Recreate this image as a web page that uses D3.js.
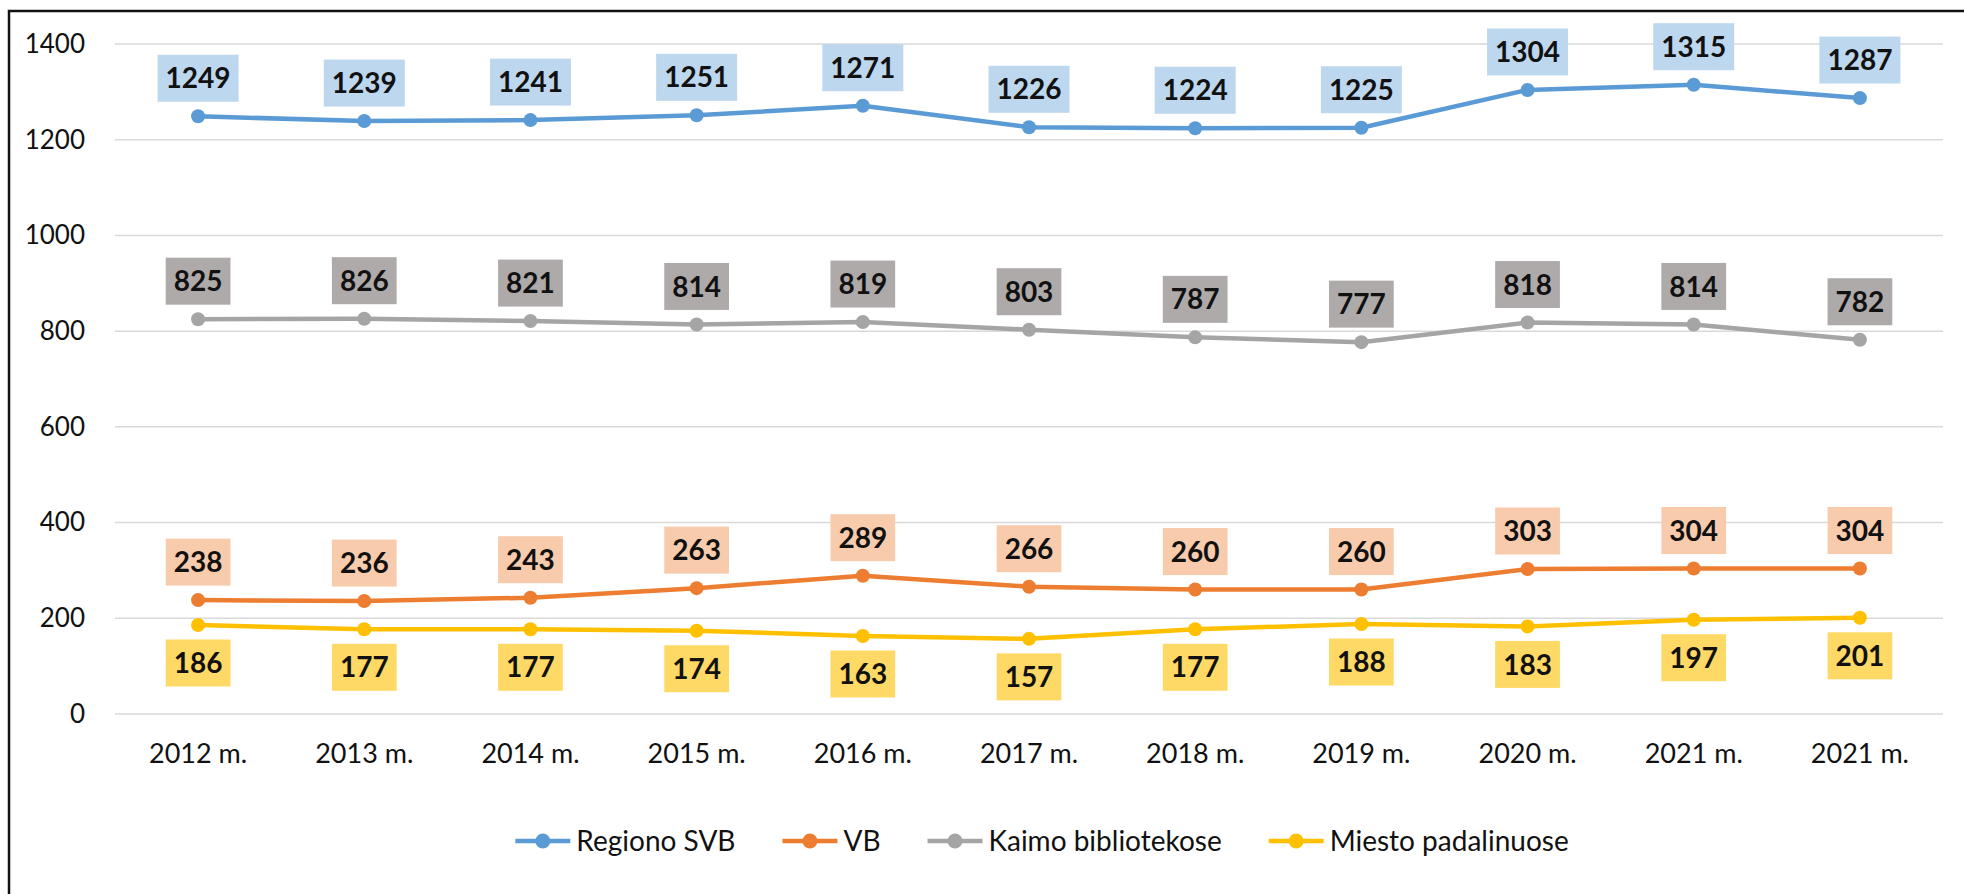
<!DOCTYPE html>
<html><head><meta charset="utf-8">
<script src="https://cdn.jsdelivr.net/npm/d3@7"></script>
<style>body{margin:0;background:#fff;}svg{display:block;}</style>
</head><body>
<svg id="chart" width="1964" height="894"></svg>
<script>
const categories = ["2012 m.","2013 m.","2014 m.","2015 m.","2016 m.","2017 m.","2018 m.","2019 m.","2020 m.","2021 m.","2021 m."];
const regionoSVB = [1249,1239,1241,1251,1271,1226,1224,1225,1304,1315,1287];
const vb = [238,236,243,263,289,266,260,260,303,304,304];
const kaimo = [825,826,821,814,819,803,787,777,818,814,782];
const miesto = [186,177,177,174,163,157,177,188,183,197,201];
const yTicks = [0,200,400,600,800,1000,1200,1400];
const seriesNames = ["Regiono SVB","VB","Kaimo bibliotekose","Miesto padalinuose"];

const series = [
  {name: seriesNames[0], values: regionoSVB, color:"#5B9BD5", box:"#BDD7EE", pos:"above"},
  {name: seriesNames[1], values: vb, color:"#ED7D31", box:"#F8CBAD", pos:"above"},
  {name: seriesNames[2], values: kaimo, color:"#A5A5A5", box:"#AEAAAA", pos:"above"},
  {name: seriesNames[3], values: miesto, color:"#FFC000", box:"#FFD966", pos:"below"}
];

const svg = d3.select("#chart");
const font = "Lato, 'Open Sans', sans-serif";
const plot = {left:115, right:1943, top:44, bottom:714};

// frame
svg.append("rect").attr("x",9).attr("y",11).attr("width",2100).attr("height",1000)
  .attr("fill","none").attr("stroke","#111").attr("stroke-width",2.5);

const idx = categories.map((d,i)=>i);
const x = d3.scaleBand().domain(idx).range([plot.left, plot.right]);
const cx = i => x(i) + x.bandwidth()/2;
const y = d3.scaleLinear().domain([0,1400]).range([plot.bottom, plot.top]);

// gridlines
svg.append("g").selectAll("line").data(yTicks).join("line")
  .attr("x1",plot.left).attr("x2",plot.right)
  .attr("y1",d=>y(d)).attr("y2",d=>y(d))
  .attr("stroke","#D9D9D9").attr("stroke-width",1.5);

// y axis
const yAxis = svg.append("g").attr("transform",`translate(${plot.left},0)`)
  .call(d3.axisLeft(y).tickValues(yTicks).tickSize(0).tickPadding(30).tickFormat(d3.format("d")));
yAxis.select(".domain").remove();
yAxis.selectAll("text").attr("font-family",font).attr("font-size",26).attr("fill","#111");

// x axis
const xAxis = svg.append("g").attr("transform",`translate(0,${plot.bottom})`)
  .call(d3.axisBottom(x).tickSize(0).tickPadding(30).tickFormat(i=>categories[i]));
xAxis.select(".domain").remove();
xAxis.selectAll("text").attr("font-family",font).attr("font-size",27).attr("fill","#111");

const line = d3.line().x((d,i)=>cx(i)).y(d=>y(d));

series.forEach(s=>{
  const g = svg.append("g");
  g.append("path").datum(s.values).attr("d",line).attr("fill","none")
    .attr("stroke",s.color).attr("stroke-width",4.5).attr("stroke-linejoin","round");
  g.selectAll("circle").data(s.values).join("circle")
    .attr("cx",(d,i)=>cx(i)).attr("cy",d=>y(d)).attr("r",7).attr("fill",s.color);
  const lab = g.selectAll("g.lab").data(s.values).join("g").attr("class","lab")
    .attr("transform",(d,i)=>`translate(${cx(i)},${y(d) + (s.pos==="above"?-38:38)})`);
  lab.each(function(d){
    const gg = d3.select(this);
    const r = gg.append("rect").attr("fill",s.box);
    const t = gg.append("text").text(d).attr("text-anchor","middle").attr("dy","0.36em")
      .attr("font-family",font).attr("font-weight","bold").attr("font-size",28).attr("fill","#111");
    const bb = t.node().getBBox();
    const w = bb.width + 16, h = 47;
    r.attr("x",-w/2).attr("y",-h/2).attr("width",w).attr("height",h);
  });
});

// legend
const legend = svg.append("g");
let lx = 0;
series.forEach(s=>{
  const it = legend.append("g").attr("transform",`translate(${lx},0)`);
  it.append("line").attr("x1",0).attr("x2",55).attr("y1",0).attr("y2",0)
    .attr("stroke",s.color).attr("stroke-width",4.5);
  it.append("circle").attr("cx",27.5).attr("cy",0).attr("r",7.5).attr("fill",s.color);
  const t = it.append("text").attr("x",61).attr("dy","0.35em").text(s.name)
    .attr("font-family",font).attr("font-size",28).attr("fill","#111");
  lx += 61 + t.node().getComputedTextLength() + 47;
});
const total = lx - 47;
legend.attr("transform",`translate(${1042 - total/2},841)`);
</script>
</body></html>
